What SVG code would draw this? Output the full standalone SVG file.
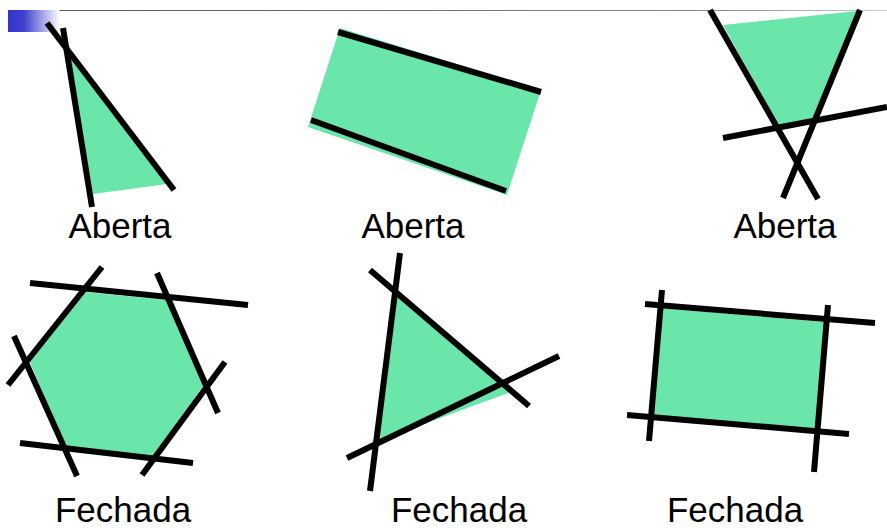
<svg xmlns="http://www.w3.org/2000/svg" width="887" height="530" viewBox="0 0 887 530">
<defs>
<linearGradient id="bluefade" x1="0" y1="0" x2="1" y2="0">
<stop offset="0" stop-color="#3333cc"/>
<stop offset="0.3" stop-color="#3f3fcf"/>
<stop offset="1" stop-color="#ffffff"/>
</linearGradient>
<linearGradient id="rule" x1="0" y1="0" x2="1" y2="0">
<stop offset="0" stop-color="#555"/>
<stop offset="0.8" stop-color="#888"/>
<stop offset="1" stop-color="#ccc"/>
</linearGradient>
</defs>
<style>
.fill{fill:#6ae6aa;stroke:none}
.ln{stroke:#000;stroke-width:6;fill:none}
.lbl{font-family:"Liberation Sans",Arial,sans-serif;font-size:35px;fill:#000;text-anchor:middle}
</style>
<rect width="887" height="530" fill="#fff"/>
<g id="header">
<rect x="8" y="10" width="879" height="1" fill="url(#rule)"/>
<rect x="8" y="10" width="52" height="22" fill="url(#bluefade)"/>
</g>
<g id="shape-aberta-1">
<polygon class="fill" points="69,56 167,184 93,194"/>
<text class="lbl" x="120" y="238">Aberta</text>
</g>
<g id="shape-aberta-2">
<polygon class="fill" points="340,28 541,90 507,195 308,127"/>
<text class="lbl" x="413" y="238">Aberta</text>
</g>
<g id="shape-aberta-3">
<polygon class="fill" points="723,25 857,11 813,120 778,125"/>
<text class="lbl" x="785" y="238">Aberta</text>
</g>
<g id="shape-fechada-1">
<polygon class="fill" points="85,292 167,300 204,385 152,457 65,447 30,362"/>
<text class="lbl" x="123" y="522">Fechada</text>
</g>
<g id="shape-fechada-2">
<polygon class="fill" points="397,295 505,382 508,393 378,441"/>
<text class="lbl" x="459" y="522">Fechada</text>
</g>
<g id="shape-fechada-3">
<polygon class="fill" points="660,308 825,322 817,430 653,417"/>
<text class="lbl" x="735" y="522">Fechada</text>
</g>
<g id="connectors">
<line class="ln" x1="47" y1="23" x2="174" y2="190"/>
<line class="ln" x1="63" y1="28" x2="92" y2="207"/>
<line class="ln" x1="338" y1="32" x2="541" y2="92"/>
<line class="ln" x1="311" y1="120" x2="506" y2="191"/>
<line class="ln" x1="710" y1="10" x2="818" y2="199"/>
<line class="ln" x1="860" y1="10" x2="783" y2="198"/>
<line class="ln" x1="723" y1="138" x2="887" y2="107"/>
<line class="ln" x1="30" y1="283" x2="248" y2="305"/>
<line class="ln" x1="102" y1="267" x2="8" y2="385"/>
<line class="ln" x1="157" y1="273" x2="218" y2="413"/>
<line class="ln" x1="225" y1="362" x2="142" y2="475"/>
<line class="ln" x1="20" y1="443" x2="193" y2="463"/>
<line class="ln" x1="14" y1="336" x2="77" y2="476"/>
<line class="ln" x1="400" y1="253" x2="370" y2="491"/>
<line class="ln" x1="370" y1="270" x2="529" y2="406"/>
<line class="ln" x1="347" y1="458" x2="559" y2="356"/>
<line class="ln" x1="645" y1="304" x2="875" y2="323"/>
<line class="ln" x1="627" y1="415" x2="849" y2="434"/>
<line class="ln" x1="662" y1="290" x2="649" y2="441"/>
<line class="ln" x1="828" y1="305" x2="814" y2="472"/>
</g>
</svg>
